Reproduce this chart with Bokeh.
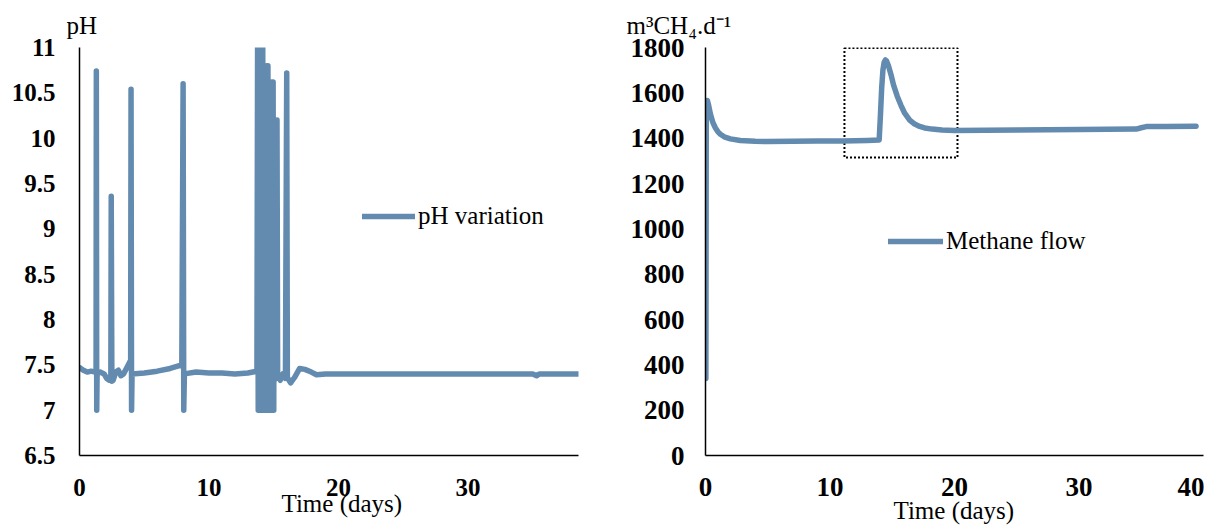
from bokeh.plotting import figure
from bokeh.layouts import row
from bokeh.models import Legend, LegendItem, FixedTicker, Range1d, Title
from bokeh.embed import file_html
from bokeh.resources import INLINE

COLOR = "#638bb0"
FONT = "Liberation Serif"

# ---- pH data (days, pH) ----
ph_days = [0.0, 0.3, 0.6, 0.9, 1.2, 1.28, 1.30, 1.33, 1.36, 1.6, 1.9, 2.1, 2.3, 2.42, 2.45, 2.50,
           2.6, 2.8, 3.0, 3.2, 3.4, 3.7, 3.95, 3.98, 4.02, 4.06, 5.0, 6.0, 7.0, 7.9, 8.00, 8.05,
           8.10, 9.0, 10.0, 11.0, 12.0, 13.0, 13.7,
           13.75, 13.80, 13.85, 13.90, 13.95, 14.00, 14.05, 14.10, 14.15, 14.20,
           14.25, 14.30, 14.35, 14.40, 14.45, 14.50, 14.55, 14.60,
           14.65, 14.70, 14.75, 14.80, 14.85, 14.90, 14.95, 15.00,
           15.05, 15.10, 15.15, 15.20, 15.25,
           15.3, 15.5, 15.7, 15.9, 16.0, 16.05, 16.3, 16.6, 17.0, 17.4, 17.9, 18.3, 19.0,
           25.0, 30.0, 35.0, 35.3, 35.5, 38.5]
ph_values = [7.47, 7.44, 7.42, 7.43, 7.42, 7.42, 10.74, 7.0, 7.40, 7.42, 7.40, 7.35, 7.33, 7.35, 9.36, 7.32,
             7.33, 7.42, 7.44, 7.38, 7.40, 7.48, 7.55, 10.54, 7.0, 7.40, 7.41, 7.43, 7.46, 7.50, 10.60, 7.0,
             7.40, 7.42, 7.41, 7.41, 7.40, 7.41, 7.43,
             11.0, 7.0, 11.0, 7.0, 11.0, 7.0, 11.0, 7.0, 11.0, 7.0,
             10.8, 7.0, 10.8, 7.0, 10.8, 7.0, 10.8, 7.0,
             10.62, 7.0, 10.62, 7.0, 10.62, 7.0, 10.62, 7.0,
             10.2, 7.34, 10.2, 7.36, 10.2,
             7.38, 7.33, 7.40, 7.35, 10.72, 7.36, 7.30, 7.36, 7.46, 7.45, 7.42, 7.39, 7.40,
             7.40, 7.40, 7.40, 7.38, 7.40, 7.40]

# ---- Methane data (days, m3 CH4/d) ----
ch4_days = [0.03, 0.06, 0.1, 0.15, 0.25, 0.4, 0.6, 0.8, 1.0, 1.2, 1.5, 2.0, 2.8, 4.0, 5.0, 7.0, 9.0,
            11.0, 13.0, 13.95, 14.05, 14.15, 14.25, 14.35, 14.45, 14.55, 14.7, 14.9, 15.1, 15.4,
            15.7, 16.0, 16.4, 16.8, 17.2, 17.6, 18.2, 19.0, 20.0, 25.0, 30.0, 34.6, 35.0, 35.4,
            37.0, 39.4]
ch4_values = [340, 1450, 1560, 1566, 1545, 1505, 1468, 1445, 1428, 1417, 1406, 1397, 1390, 1386, 1385,
              1386, 1387, 1388, 1390, 1392, 1500, 1620, 1700, 1735, 1745, 1740, 1718, 1680, 1635, 1585,
              1545, 1510, 1480, 1462, 1452, 1445, 1440, 1436, 1434, 1436, 1438, 1440, 1446, 1451,
              1452, 1453]

# dotted highlight box (days / m3 CH4 d-1)
box_left, box_right = [11.16], [20.24]
box_bottom, box_top = [1315], [1798]

ph_ticks = [6.5, 7, 7.5, 8, 8.5, 9, 9.5, 10, 10.5, 11]
ph_tick_labels = ["6.5", "7", "7.5", "8", "8.5", "9", "9.5", "10", "10.5", "11"]
ch4_ticks = [0, 200, 400, 600, 800, 1000, 1200, 1400, 1600, 1800]
day_ticks_left = [0, 10, 20, 30]
day_ticks_right = [0, 10, 20, 30, 40]


def style_axes(p, size):
    for ax in (p.xaxis[0], p.yaxis[0]):
        ax.major_tick_line_color = None
        ax.minor_tick_line_color = None
        ax.major_tick_out = 0
        ax.major_tick_in = 0
        ax.axis_line_color = "black"
        ax.axis_line_width = 1.5
        ax.major_label_text_font = FONT
        ax.major_label_text_font_style = "bold"
        ax.major_label_text_font_size = size
        ax.major_label_text_color = "black"
    p.grid.visible = False
    p.outline_line_color = None
    p.background_fill_color = "white"
    p.border_fill_color = "white"


def side_title(text, offset, standoff, valign):
    return Title(text=text, align="left", offset=offset, standoff=standoff, vertical_align=valign,
                 text_font=FONT, text_font_size="25px", text_font_style="normal", text_color="black")


# ---------------- left: pH ----------------
p1 = figure(width=600, height=527, x_range=Range1d(0, 38.53), y_range=Range1d(6.5, 11),
            output_backend="svg", toolbar_location=None,
            min_border_left=79, min_border_right=22, min_border_top=45, min_border_bottom=72)
style_axes(p1, "25px")
p1.xaxis.ticker = FixedTicker(ticks=day_ticks_left)
p1.yaxis.ticker = FixedTicker(ticks=ph_ticks)
p1.yaxis.major_label_overrides = {t: s for t, s in zip(ph_ticks, ph_tick_labels)}
p1.yaxis.major_label_standoff = 24
p1.xaxis.major_label_standoff = 23

r1 = p1.line(ph_days, ph_values, line_width=5.5, color=COLOR, line_join="round", line_cap="round")
leg1 = Legend(items=[LegendItem(label="pH variation", renderers=[r1])], location=(283, 224),
              border_line_color=None, background_fill_alpha=0, padding=0, margin=0,
              glyph_width=53, glyph_height=30, label_height=30, label_standoff=3,
              label_text_font=FONT, label_text_font_size="25px", label_text_color="black")
p1.add_layout(leg1)
p1.add_layout(side_title("pH", -13, 14, "top"), "above")
p1.add_layout(side_title("Time (days)", 202, -18, "top"), "below")

# ---------------- right: methane ----------------
p2 = figure(width=604, height=527, x_range=Range1d(0, 40), y_range=Range1d(0, 1800),
            output_backend="svg", toolbar_location=None,
            min_border_left=105, min_border_right=1, min_border_top=47, min_border_bottom=72)
style_axes(p2, "27px")
p2.xaxis.ticker = FixedTicker(ticks=day_ticks_right)
p2.yaxis.ticker = FixedTicker(ticks=ch4_ticks)
p2.yaxis.major_label_standoff = 21
p2.xaxis.major_label_standoff = 22

p2.quad(left=box_left, right=box_right, bottom=box_bottom, top=box_top, fill_color=None,
        line_color="black", line_width=2, line_dash="2 2")
r2 = p2.line(ch4_days, ch4_values, line_width=5.5, color=COLOR, line_join="round", line_cap="round")
leg2 = Legend(items=[LegendItem(label="Methane flow", renderers=[r2])], location=(183, 199),
              border_line_color=None, background_fill_alpha=0, padding=0, margin=0,
              glyph_width=55, glyph_height=30, label_height=30, label_standoff=3,
              label_text_font=FONT, label_text_font_size="25px", label_text_color="black")
p2.add_layout(leg2)
p2.add_layout(side_title("m³CH₄.d⁻¹", -79, 14, "top"), "above")
p2.add_layout(side_title("Time (days)", 188, -4, "top"), "below")

layout = row(p1, p2)
open("out.html", "w").write(file_html(layout, INLINE))
